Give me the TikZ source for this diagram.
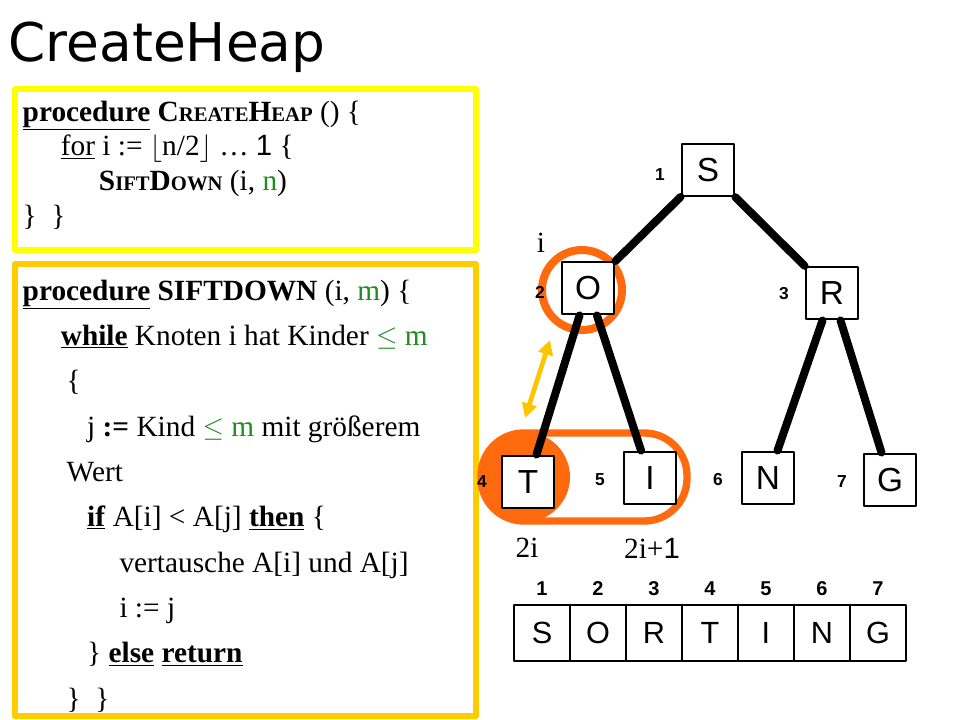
\documentclass[tikz,border=0pt]{standalone}
\usepackage{fontspec}
\setmainfont{Liberation Serif}
\newfontfamily\sansf{Liberation Sans}
\newfontfamily\titlef{DejaVu Sans}
\usetikzlibrary{positioning,arrows.meta}
\definecolor{heapyellow}{HTML}{FFFF00}
\definecolor{heaporange}{HTML}{FFCC00}
\definecolor{ringorange}{HTML}{FF6A0F}
\definecolor{codegreen}{HTML}{1E8C1E}
\tikzset{
  keybox/.style={draw,line width=2.2pt,fill=white,minimum size=39pt,inner sep=0pt,font=\sansf\fontsize{25}{25}\selectfont},
  idx/.style={font=\sansf\bfseries\fontsize{13}{13}\selectfont},
  edge/.style={line width=6pt},
  code/.style={anchor=north west,align=left,font=\fontsize{22}{27}\selectfont},
  cell/.style={draw,line width=1.6pt,minimum width=42pt,minimum height=42pt,inner sep=0pt,font=\sansf\fontsize{23}{23}\selectfont}
}
\newcommand{\kw}[1]{\underline{\textbf{#1}}}
\newcommand{\gr}[1]{\textcolor{codegreen}{#1}}
\newcommand{\smc}[1]{{\fontsize{15.5}{15.5}\selectfont #1}}
\begin{document}
\begin{tikzpicture}[x=0.75pt,y=-0.75pt,line cap=round,line join=round]
\useasboundingbox (0,0) rectangle (960,720);

%title
\node[anchor=west,font=\titlef\fontsize{40}{40}\selectfont] (title) at (4,47) {CreateHeap};

%code boxes
\draw[heapyellow,line width=4.5pt] (15,89) rectangle (476,250);
\draw[heaporange,line width=4.5pt] (15,264) rectangle (476,716);
\node[code,font=\fontsize{22}{26}\selectfont] (createheap) at (18,96) {\kw{procedure} \textbf{C\smc{REATE}H\smc{EAP}} () \{\\
\hspace{1.3em}\underline{for} i := $\lfloor$n/2$\rfloor$ \dots{} {\sansf 1} \{\\
\hspace{2.6em}\textbf{S\smc{IFT}D\smc{OWN}} (i, \gr{n})\\
\} \ \}};
\node[code,font=\fontsize{22}{34}\selectfont] (siftdown) at (18,275) {\kw{procedure} \textbf{SIFTDOWN} (i, \gr{m}) \{\\
\hspace{1.3em}\kw{while} Knoten i hat Kinder \gr{$\leq$ m}\\
\hspace{1.5em}\{\\
\hspace{2.2em}j \textbf{:=} Kind \gr{$\leq$ m} mit größerem\\
\hspace{1.5em}Wert\\
\hspace{2.2em}\kw{if} A[i] < A[j] \kw{then} \{\\
\hspace{3.3em}vertausche A[i] und A[j]\\
\hspace{3.3em}i := j\\
\hspace{2.2em}\} \kw{else} \kw{return}\\
\hspace{1.5em}\} \ \}};

%orange marks
\fill[ringorange] (525,477) circle (45);
\draw[ringorange,line width=5.5pt,rounded corners=32pt] (481,433) rectangle (687,521);
\draw[ringorange,line width=6pt] (582,290) circle (40);

%tree
\node[keybox] (s) at (708,170) {S};
\node[keybox] (o) at (588,288) {O};
\node[keybox] (r) at (832,293) {R};
\node[keybox] (t) at (528,482) {T};
\node[keybox] (i) at (650,478) {I};
\node[keybox] (n) at (768,478) {N};
\node[keybox] (g) at (890,480) {G};
\foreach \a/\b in {s/o,s/r,o/t,o/i,r/n,r/g}
  \draw[edge] (\a) -- (\b);

\node[idx] (l1) at (660,175) {1};
\node[idx] (l2) at (540,292) {2};
\node[idx] (l3) at (784,294) {3};
\node[idx] (l4) at (482,482) {4};
\node[idx] (l5) at (600,480) {5};
\node[idx] (l6) at (718,480) {6};
\node[idx] (l7) at (842,482) {7};

\coordinate (arrtop) at (550,340);
\coordinate (arrbot) at (525,418);
\draw[heaporange!90!orange,line width=3.5pt,{Triangle[length=11pt,width=11pt]}-{Triangle[length=11pt,width=11pt]}] (arrtop) -- (arrbot);

\node[font=\fontsize{22}{22}\selectfont] (li) at (541,243) {i};
\node[font=\fontsize{22}{22}\selectfont] (l2i) at (527,548) {2i};
\node[font=\fontsize{22}{22}\selectfont] (l2i1) at (652,548) {2i+{\sansf 1}};

%array
\foreach \c [count=\k] in {S,O,R,T,I,N,G}{
  \node[cell] (a\k) at (486+\k*56,633) {\c};
  \node[idx,font=\sansf\bfseries\fontsize{15}{15}\selectfont] (n\k) at (486+\k*56,589) {\k};
}
\end{tikzpicture}
\end{document}
